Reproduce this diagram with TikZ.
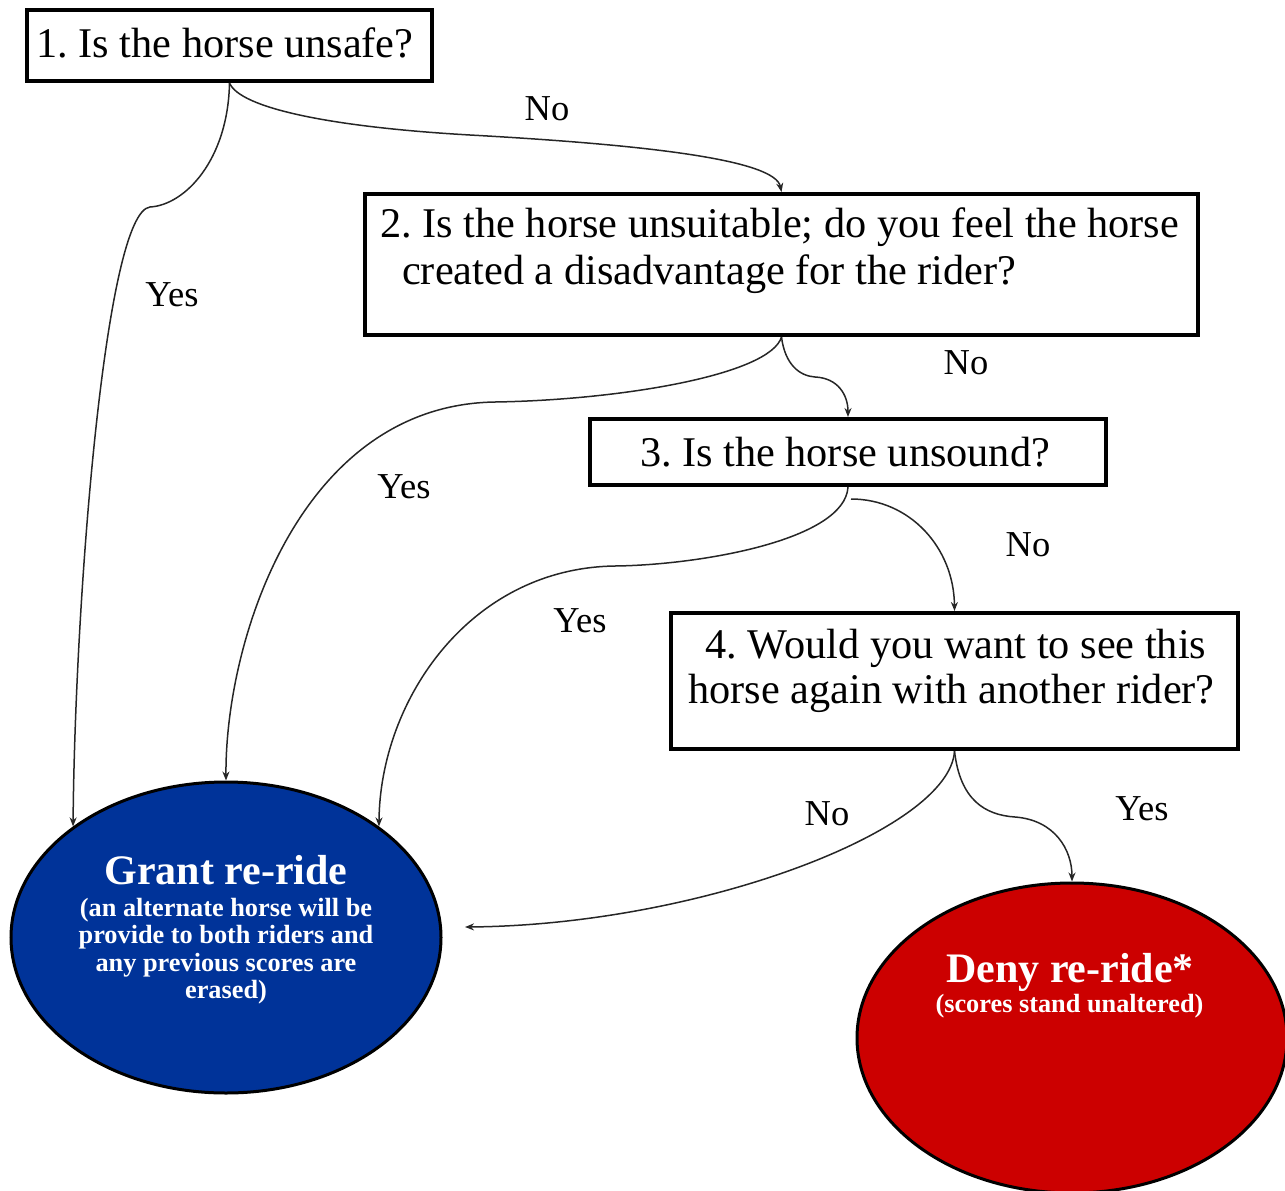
\documentclass[tikz,border=0pt]{standalone}
\usepackage{fontspec}
\setmainfont{Liberation Serif}
\usetikzlibrary{arrows.meta,shapes.geometric,calc}
\definecolor{grantblue}{RGB}{0,51,153}
\definecolor{denyred}{RGB}{204,0,0}
\frenchspacing
\tikzset{
  qbox/.style={draw=black,line width=4pt,fill=white,rectangle,inner sep=0pt},
  qtext/.style={inner sep=0pt,font=\fontsize{42.3}{48}\selectfont},
  lbl/.style={inner sep=0pt,anchor=base,font=\fontsize{36.5}{42}\selectfont},
  outcome/.style={ellipse,draw=black,line width=3pt,inner sep=0pt},
  ohead/.style={inner sep=0pt,anchor=base,text=white,font=\fontsize{42}{48}\selectfont\bfseries},
  osub/.style={inner sep=0pt,anchor=base,text=white,font=\fontsize{26.3}{28}\selectfont\bfseries},
  conn/.style={draw=black!85,line width=1.5pt,-{Stealth[length=9pt,width=7pt]}}
}
\begin{document}
\begin{tikzpicture}[x=1pt,y=-1pt]
\useasboundingbox (0,0) rectangle (1285,1191);
\clip (0,0) rectangle (1285,1191);

% question boxes
\node[qbox,minimum width=405pt,minimum height=71pt] (b1) at (229.5,45.5) {};
\node[qbox,minimum width=833pt,minimum height=141pt] (b2) at (781.5,264.5) {};
\node[qbox,minimum width=516pt,minimum height=66pt] (b3) at (848,452) {};
\node[qbox,minimum width=567pt,minimum height=136pt] (b4) at (954.5,681) {};

\node[qtext,anchor=base] (t1) at (225,57) {1. Is the horse unsafe?};
\node[qtext,anchor=base west] (t2a) at (380,237) {2. Is the horse unsuitable; do you feel the horse};
\node[qtext,anchor=base west] (t2b) at (402,284) {created a disadvantage for the rider?};
\node[qtext,anchor=base] (t3) at (845,466) {3. Is the horse unsound?};
\node[qtext,anchor=base] (t4a) at (956,658) {4. Would you want to see this};
\node[qtext,anchor=base] (t4b) at (951.5,703) {horse again with another rider?};

% outcomes
\node[outcome,fill=grantblue,minimum width=430pt,minimum height=311pt] (g) at (226,937.5) {};
\node[outcome,fill=denyred,minimum width=430pt,minimum height=310pt] (d) at (1072,1038) {};

\node[ohead] (gh) at (226,884) {Grant re-ride};
\node[osub] (g1) at (226,916) {(an alternate horse will be};
\node[osub] (g2) at (226,943) {provide to both riders and};
\node[osub] (g3) at (226,971) {any previous scores are};
\node[osub] (g4) at (226,998) {erased)};

\node[ohead] (dh) at (1070,982) {Deny re-ride*};
\node[osub] (d1) at (1069.5,1012) {(scores stand unaltered)};

% free ends / offset starts
\coordinate (gNo) at (465,927);
\coordinate (n3) at (851,499);

% connectors
\draw[conn] (b1.south) .. controls (240,108) and (330,127) .. (470,135)
  .. controls (650,145) and (775,160) .. (b2.north);
\draw[conn] (b1.south) .. controls (228,160) and (185,205) .. (150,207)
  .. controls (105,212) and (75,600) .. (g.144);
\draw[conn] (b2.south) .. controls (785,365) and (800,376) .. (815,377)
  .. controls (838,378) and (848,395) .. (b3.north);
\draw[conn] (b2.south) .. controls (770,375) and (620,400) .. (495,402)
  .. controls (300,405) and (225,640) .. (g.north);
\draw[conn] (n3) .. controls (910,499) and (954,548) .. (b4.north);
\draw[conn] (b3.south) .. controls (845,540) and (700,565) .. (615,566)
  .. controls (470,568) and (380,700) .. (g.36);
\draw[conn] (b4.south) .. controls (950,830) and (700,925) .. (gNo);
\draw[conn] (b4.south) .. controls (960,800) and (985,815) .. (1015,817)
  .. controls (1055,820) and (1072,850) .. (d.north);

% labels
\node[lbl] (l1) at (547,120) {No};
\node[lbl] (l2) at (172,306) {Yes};
\node[lbl] (l3) at (966,374) {No};
\node[lbl] (l4) at (404,498) {Yes};
\node[lbl] (l5) at (1028,556) {No};
\node[lbl] (l6) at (580,632) {Yes};
\node[lbl] (l7) at (827,825) {No};
\node[lbl] (l8) at (1142,820) {Yes};
\end{tikzpicture}
\end{document}
